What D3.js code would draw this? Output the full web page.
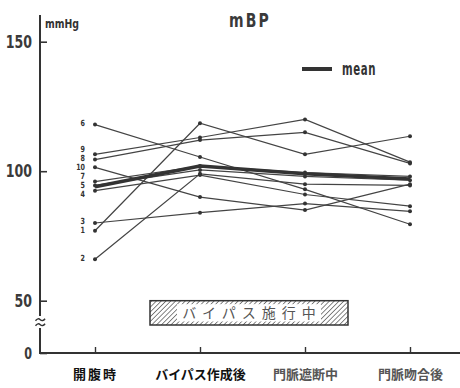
<!DOCTYPE html>
<html>
<head>
<meta charset="utf-8">
<script src="https://cdn.jsdelivr.net/npm/d3@7"></script>
<style>
  body { margin: 0; background: #fff; }
  svg { display: block; }
  .num { font-family: "DejaVu Sans", sans-serif; font-weight: bold; }
  .jp { font-family: "Noto Sans CJK JP", "Noto Sans", sans-serif; font-weight: bold; }
</style>
</head>
<body>
<svg id="chart" width="460" height="388"></svg>
<script>
// Time points of the operation
const categories = ["開腹時", "バイパス作成後", "門脈遮断中", "門脈吻合後"];

// Mean blood pressure (mmHg) per patient, one value per time point
const patientIds = ["6", "9", "8", "10", "7", "5", "4", "3", "1", "2"];
const p6  = [118, 105.5, 93, 79.5];
const p9  = [106.5, 113, 120, 103.5];
const p8  = [104.5, 112, 115, 103];
const p10 = [101.5, 90, 85, 95];
const p7  = [96, 102, 99.5, 98];
const p5  = [94.5, 100.5, 98, 96.5];
const p4  = [92.5, 98.5, 91, 86.5];
const p3  = [80, 84, 87.5, 84.5];
const p1  = [77, 118.5, 106.5, 113.5];
const p2  = [66, 99, 95, 94.5];
const meanValues = [94, 102, 99, 97];

const yTicks = [0, 50, 100, 150];
const titleText = "mBP";
const unitText = "mmHg";
const legendText = "mean";
const bypassText = "バイパス施行中";

const patientValues = [p6, p9, p8, p10, p7, p5, p4, p3, p1, p2];
const series = patientIds.map((id, i) => ({ id, values: patientValues[i] }));

const svg = d3.select("#chart");
const ink = "#333";

// Narrow the glyphs horizontally, keeping each text's anchor point
function squeeze(sel, sx) {
  sel.each(function () {
    const t = d3.select(this);
    const tx = +t.attr("x") || 0, ty = +t.attr("y") || 0;
    t.attr("x", 0).attr("y", 0).attr("transform", `translate(${tx},${ty}) scale(${sx},1)`);
  });
}

// Broken value axis: 0 sits below the break, 50–150 is linear
const y = d3.scaleLinear().domain([0, 50, 150]).range([353, 300.7, 41.7]);
const x = d3.scalePoint().domain(categories).range([95, 410]);
const axisX = 40;

// Hatch pattern for the bypass bar
const defs = svg.append("defs");
defs.append("pattern")
  .attr("id", "hatch")
  .attr("patternUnits", "userSpaceOnUse")
  .attr("width", 3.4).attr("height", 3.4)
  .attr("patternTransform", "rotate(45)")
  .append("line")
  .attr("x1", 0).attr("y1", 0).attr("x2", 0).attr("y2", 3.4)
  .attr("stroke", "#444").attr("stroke-width", 1.3);

// Y axis ticks and labels
const yAxis = d3.axisLeft(y).tickValues(yTicks).tickSizeInner(-7).tickSizeOuter(0).tickPadding(8)
  .tickFormat(d3.format("d"));
const gy = svg.append("g").attr("transform", `translate(${axisX},0)`).call(yAxis);
gy.select(".domain").remove();
gy.selectAll(".tick line").attr("stroke", ink).attr("stroke-width", 1.6);
gy.selectAll(".tick text").attr("class", "num").attr("fill", "#3a3a3a")
  .style("font-size", d => d === 0 ? "16px" : "18px");
squeeze(gy.selectAll(".tick text"), 0.7);

// Y axis line with break mark
svg.append("line").attr("x1", axisX).attr("x2", axisX).attr("y1", 15).attr("y2", 316)
  .attr("stroke", ink).attr("stroke-width", 2);
svg.append("line").attr("x1", axisX).attr("x2", axisX).attr("y1", 328).attr("y2", 354)
  .attr("stroke", ink).attr("stroke-width", 2);
[319.5, 324.5].forEach(by => {
  svg.append("path")
    .attr("d", `M35.5,${by + 1.2} q2.5,-3.2 4.8,-1 t4.8,-1`)
    .attr("fill", "none").attr("stroke", ink).attr("stroke-width", 1.4);
});

const unit = svg.append("text").attr("class", "num").attr("x", 45).attr("y", 28)
  .style("font-size", "13px").attr("fill", "#333").text(unitText);
squeeze(unit, 0.72);

// X axis
const xAxis = d3.axisBottom(x).tickSizeInner(-6).tickSizeOuter(0).tickPadding(14);
const gx = svg.append("g").attr("transform", `translate(0,${y(0)})`).call(xAxis);
gx.select(".domain").remove();
gx.selectAll(".tick line").attr("stroke", ink).attr("stroke-width", 1.4);
gx.selectAll(".tick text").attr("class", "jp")
  .style("font-size", "13px")
  .style("letter-spacing", (d, i) => i === 0 ? "2px" : "0px")
  .attr("fill", (d, i) => i < 2 ? "#111" : "#555")
  .attr("dy", "0.9em");
svg.append("line").attr("x1", axisX - 1).attr("x2", 460).attr("y1", y(0)).attr("y2", y(0))
  .attr("stroke", ink).attr("stroke-width", 2);

// Title
const title = svg.append("text").attr("class", "num").attr("x", 250).attr("y", 27)
  .attr("text-anchor", "middle").style("font-size", "20px").style("letter-spacing", "3px")
  .attr("fill", "#3a3a3a").text(titleText);
squeeze(title, 0.7);

// Legend
svg.append("line").attr("x1", 302).attr("x2", 332).attr("y1", 69).attr("y2", 69)
  .attr("stroke", "#333").attr("stroke-width", 4);
const legend = svg.append("text").attr("class", "num").attr("x", 342).attr("y", 74.5)
  .style("font-size", "17px").style("letter-spacing", "1px").attr("fill", "#333").text(legendText);
squeeze(legend, 0.6);

// Patient lines and points
const line = d3.line().x((d, i) => x(categories[i])).y(d => y(d));
const gp = svg.append("g");
gp.selectAll("path").data(series).join("path")
  .attr("d", d => line(d.values))
  .attr("fill", "none").attr("stroke", "#444").attr("stroke-width", 1.2);
gp.selectAll("g.pts").data(series).join("g").attr("class", "pts")
  .selectAll("circle").data(d => d.values).join("circle")
  .attr("cx", (d, i) => x(categories[i])).attr("cy", d => y(d)).attr("r", 2)
  .attr("fill", "#333");

// Mean line
svg.append("path").attr("d", line(meanValues))
  .attr("fill", "none").attr("stroke", "#333").attr("stroke-width", 3.6)
  .attr("stroke-linejoin", "round");

// Patient numbers beside the first time point, spread apart where crowded
const labels = series.map(s => ({ id: s.id, y: y(s.values[0]) })).sort((a, b) => a.y - b.y);
for (let k = 0; k < 60; k++) {
  for (let i = 1; i < labels.length; i++) {
    const gap = labels[i].y - labels[i - 1].y;
    if (gap < 9) { const m = (9 - gap) / 2; labels[i].y += m; labels[i - 1].y -= m; }
  }
}
const ids = svg.append("g").selectAll("text").data(labels).join("text")
  .attr("class", "num").attr("x", x(categories[0]) - 10).attr("y", d => d.y + 1.5)
  .attr("text-anchor", "end")
  .style("font-size", "8.5px").attr("fill", "#333").text(d => d.id);
squeeze(ids, 0.75);

// Bypass period bar
const barTop = y(50), barBottom = 325, barLeft = 150, barRight = 348;
svg.append("rect").attr("x", barLeft).attr("y", barTop).attr("width", barRight - barLeft)
  .attr("height", barBottom - barTop).attr("fill", "url(#hatch)")
  .attr("stroke", "#333").attr("stroke-width", 1.5);
const cx = (barLeft + barRight) / 2;
svg.append("rect").attr("x", cx - 72).attr("y", barTop + 3.5).attr("width", 144)
  .attr("height", barBottom - barTop - 7).attr("fill", "#fff");
svg.append("text").attr("class", "jp").attr("x", cx + 3).attr("y", (barTop + barBottom) / 2)
  .attr("dy", "0.36em").attr("text-anchor", "middle")
  .style("font-size", "14px").style("font-weight", "normal").style("letter-spacing", "6px")
  .attr("fill", "#555").text(bypassText);
</script>
</body>
</html>
